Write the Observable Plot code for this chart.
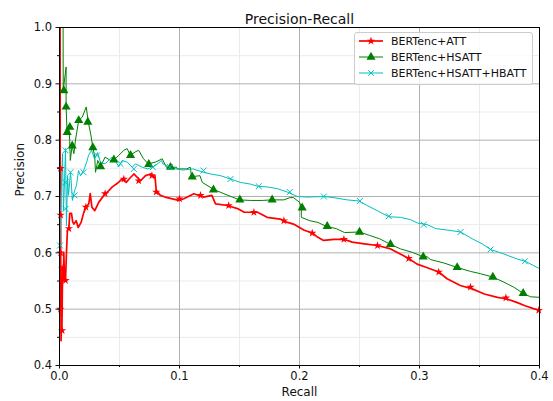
<!DOCTYPE html>
<html>
<head>
<meta charset="utf-8">
<script src="https://cdn.jsdelivr.net/npm/d3@7"></script>
<script src="https://cdn.jsdelivr.net/npm/@observablehq/plot@0.6"></script>
<style>
  body { margin: 0; background: white; }
  #wrap { position: relative; width: 553px; height: 401px; font-family: "DejaVu Sans", sans-serif; }
  #legend { position: absolute; left: 354px; top: 32px; width: 179px; height: 53px; box-sizing: border-box;
            border: 1px solid #cccccc; border-radius: 3px; background: rgba(255,255,255,0.8); }
  .row { position: absolute; left: 0; height: 14px; display: flex; align-items: center; font-size: 11px; color: #111; white-space: nowrap; }
  .row svg { margin-left: 4px; margin-right: 8px; }
</style>
</head>
<body>
<div id="wrap"><div id="chart"></div><div id="legend"></div></div>
<script>
// ---------------- data ----------------
const seriesNames = ["BERTenc+ATT", "BERTenc+HSATT", "BERTenc+HSATT+HBATT"];
const seriesColors = ["#ff0000", "#008000", "#00bfbf"];
const xTicks = [0, 0.1, 0.2, 0.3, 0.4];
const xMinor = [0.05, 0.15, 0.25, 0.35];
const yTicks = [0.4, 0.5, 0.6, 0.7, 0.8, 0.9, 1.0];
const yMinor = [0.45, 0.55, 0.65, 0.75, 0.85, 0.95];

// BERTenc+ATT
const attRecall = [0.0005,0.0006,0.0008,0.0009,0.001,0.001,0.0012,0.0012,0.0013,0.0018,0.002,0.0022,0.0024,0.0028,0.0032,0.0036,0.0042,0.005,0.0058,0.0066,0.0078,0.0085,0.010,0.011,0.012,0.0139,0.0156,0.018,0.020,0.022,0.0244,0.0256,0.027,0.0294,0.0328,0.037,0.040,0.044,0.048,0.052,0.0556,0.058,0.062,0.0675,0.0717,0.0758,0.0786,0.0795,0.0806,0.084,0.088,0.0994,0.1036,0.112,0.120,0.127,0.130,0.140,0.149,0.154,0.165,0.173,0.184,0.190,0.195,0.200,0.204,0.211,0.215,0.220,0.229,0.237,0.244,0.254,0.265,0.276,0.284,0.291,0.298,0.306,0.316,0.323,0.334,0.344,0.354,0.365,0.373,0.381,0.388,0.395,0.400];
const attPrecision = [1.0,0.5,0.667,0.75,0.6,0.5,0.571,0.5,0.444,0.5,0.462,0.5,0.538,0.572,0.55,0.6,0.55,0.551,0.6,0.64,0.643,0.67,0.67,0.655,0.651,0.657,0.645,0.654,0.67,0.681,0.687,0.705,0.681,0.675,0.69,0.702,0.708,0.717,0.723,0.731,0.725,0.731,0.74,0.728,0.737,0.74,0.734,0.737,0.711,0.702,0.699,0.693,0.696,0.705,0.699,0.702,0.687,0.684,0.678,0.672,0.672,0.663,0.66,0.654,0.651,0.645,0.64,0.635,0.628,0.622,0.624,0.624,0.619,0.616,0.613,0.607,0.598,0.59,0.58,0.574,0.566,0.554,0.542,0.536,0.527,0.521,0.518,0.512,0.506,0.501,0.498];
const attMarkRecall = [0.0009,0.0009,0.001,0.0022,0.005,0.0008,0.0022,0.0078,0.022,0.038,0.0536,0.066,0.077,0.0806,0.100,0.1175,0.141,0.162,0.187,0.2106,0.237,0.265,0.291,0.316,0.3425,0.372,0.3994];
const attMarkPrecision = [0.75,0.667,0.6,0.572,0.551,0.5,0.462,0.643,0.681,0.705,0.731,0.728,0.737,0.708,0.696,0.702,0.684,0.672,0.657,0.635,0.624,0.613,0.59,0.566,0.539,0.52,0.498];

// BERTenc+HSATT
const hsRecall = [0.0005,0.003,0.0031,0.0055,0.0055,0.0064,0.0078,0.0085,0.009,0.0105,0.012,0.0133,0.016,0.019,0.0223,0.024,0.026,0.0278,0.0294,0.030,0.0319,0.0342,0.038,0.0425,0.0453,0.0494,0.0536,0.0564,0.059,0.063,0.066,0.070,0.074,0.080,0.0856,0.089,0.0975,0.098,0.106,0.109,0.110,0.117,0.119,0.129,0.137,0.144,0.150,0.159,0.169,0.177,0.187,0.192,0.195,0.198,0.200,0.2015,0.2015,0.2085,0.2153,0.2222,0.2306,0.2375,0.250,0.2583,0.2667,0.2722,0.2758,0.2842,0.2939,0.3008,0.3064,0.3092,0.3203,0.3314,0.3425,0.3508,0.3611,0.3703,0.3786,0.3864,0.3925,0.400];
const hsPrecision = [1.0,1.0,0.888,0.93,0.859,0.81,0.823,0.8,0.764,0.79,0.776,0.8,0.835,0.841,0.859,0.832,0.811,0.787,0.77,0.743,0.764,0.753,0.77,0.764,0.765,0.773,0.782,0.785,0.773,0.779,0.782,0.767,0.758,0.761,0.767,0.752,0.752,0.749,0.749,0.752,0.735,0.737,0.725,0.712,0.705,0.699,0.694,0.693,0.693,0.694,0.694,0.698,0.698,0.693,0.69,0.68,0.663,0.657,0.654,0.647,0.643,0.636,0.637,0.631,0.625,0.619,0.615,0.607,0.601,0.595,0.593,0.588,0.582,0.574,0.567,0.563,0.557,0.548,0.539,0.528,0.522,0.521];
const hsMarkRecall = [0.0036,0.0055,0.0064,0.0086,0.0106,0.016,0.0236,0.0278,0.0342,0.0453,0.0592,0.0744,0.0925,0.1106,0.1283,0.1503,0.1772,0.2022,0.2231,0.250,0.2758,0.3031,0.3314,0.3611,0.3864];
const hsMarkPrecision = [0.888,0.859,0.814,0.823,0.79,0.835,0.832,0.787,0.753,0.765,0.773,0.757,0.752,0.735,0.712,0.694,0.694,0.68,0.647,0.637,0.615,0.593,0.574,0.557,0.528];

// BERTenc+HSATT+HBATT
const hbRecall = [0.0004,0.0012,0.0025,0.0033,0.0042,0.005,0.0058,0.0067,0.0075,0.0092,0.0108,0.0125,0.0142,0.0158,0.0175,0.020,0.0225,0.0242,0.0267,0.0292,0.0317,0.0342,0.038,0.0436,0.0464,0.0494,0.0522,0.0564,0.0606,0.0633,0.0689,0.0736,0.080,0.085,0.0861,0.0917,0.0972,0.1028,0.1111,0.120,0.1258,0.1342,0.1425,0.1508,0.1592,0.1653,0.1731,0.1814,0.1897,0.1983,0.2064,0.2203,0.2286,0.2397,0.2494,0.2564,0.2647,0.2744,0.2842,0.2925,0.2981,0.3064,0.3136,0.3247,0.3342,0.3439,0.3522,0.3592,0.3703,0.3814,0.3883,0.3953,0.400];
const hbPrecision = [0.613,0.693,0.776,0.675,0.728,0.785,0.648,0.737,0.702,0.743,0.693,0.71,0.72,0.746,0.737,0.746,0.76,0.773,0.782,0.767,0.778,0.76,0.758,0.77,0.764,0.753,0.764,0.761,0.752,0.758,0.752,0.749,0.755,0.764,0.758,0.752,0.749,0.747,0.749,0.743,0.74,0.737,0.731,0.725,0.722,0.718,0.717,0.714,0.708,0.7,0.699,0.7,0.698,0.694,0.692,0.684,0.675,0.664,0.663,0.659,0.653,0.65,0.643,0.64,0.637,0.625,0.616,0.606,0.598,0.589,0.585,0.577,0.572];
const hbMarkRecall = [0.0004,0.005,0.005,0.005,0.0092,0.0125,0.020,0.0312,0.0508,0.0619,0.0778,0.092,0.120,0.1425,0.1661,0.1919,0.2203,0.2503,0.2744,0.3036,0.3342,0.3592,0.3878];
const hbMarkPrecision = [0.613,0.782,0.725,0.678,0.743,0.702,0.743,0.773,0.758,0.749,0.752,0.752,0.746,0.731,0.718,0.708,0.7,0.692,0.665,0.65,0.637,0.606,0.585];

// ---------------- build ----------------
const toRows = (rs, ps) => rs.map((r, i) => ({r, p: ps[i]}));
const att = toRows(attRecall, attPrecision), attM = toRows(attMarkRecall, attMarkPrecision);
const hs = toRows(hsRecall, hsPrecision), hsM = toRows(hsMarkRecall, hsMarkPrecision);
const hb = toRows(hbRecall, hbPrecision), hbM = toRows(hbMarkRecall, hbMarkPrecision);
const fmt = d3.format(".1f");

const chart = Plot.plot({
  width: 553, height: 401,
  marginTop: 27, marginLeft: 59, marginRight: 14, marginBottom: 36,
  x: {domain: [0, 0.4]},
  y: {domain: [0.4, 1.0]},
  style: {fontFamily: "DejaVu Sans, sans-serif", background: "white", color: "#111"},
  marks: [
    Plot.gridX(xMinor, {stroke: "#ebebeb", strokeOpacity: 1}),
    Plot.gridY(yMinor, {stroke: "#ebebeb", strokeOpacity: 1}),
    Plot.gridX(xTicks, {stroke: "#b0b0b0", strokeOpacity: 1}),
    Plot.gridY(yTicks, {stroke: "#b0b0b0", strokeOpacity: 1}),
    Plot.line(att, {x: "r", y: "p", stroke: seriesColors[0], strokeWidth: 1.7, clip: true}),
    Plot.line(hs, {x: "r", y: "p", stroke: seriesColors[1], strokeWidth: 1, clip: true}),
    Plot.line(hb, {x: "r", y: "p", stroke: seriesColors[2], strokeWidth: 1, clip: true}),
    Plot.dot(attM, {x: "r", y: "p", symbol: "star", fill: seriesColors[0], r: 2.6}),
    Plot.dot(hsM, {x: "r", y: "p", symbol: "triangle", fill: seriesColors[1], r: 3.4}),
    Plot.dot(hbM, {x: "r", y: "p", symbol: "times", stroke: seriesColors[2], strokeWidth: 1, r: 2.8}),
    Plot.frame({stroke: "black", strokeWidth: 1}),
    Plot.axisX(xTicks, {tickSize: 3.5, tickPadding: 3, tickFormat: fmt, fontSize: 11.5, label: null}),
    Plot.axisX(xMinor, {tickSize: 2, tickFormat: () => "", label: null}),
    Plot.axisY(yTicks, {tickSize: 3.5, tickPadding: 4, tickFormat: fmt, fontSize: 11.5, label: null}),
    Plot.axisY(yMinor, {tickSize: 2, tickFormat: () => "", label: null}),
    Plot.text(["Precision-Recall"], {frameAnchor: "top", dy: -13, fontSize: 14}),
    Plot.text(["Recall"], {frameAnchor: "bottom", dy: 30, fontSize: 12}),
    Plot.text(["Precision"], {frameAnchor: "left", dx: -39, rotate: -90, fontSize: 12})
  ]
});
document.getElementById("chart").appendChild(chart);

// legend
const legend = document.getElementById("legend");
const symbols = ["star", "triangle", "times"];
const rowTops = [0, 16, 32];
seriesNames.forEach((name, i) => {
  const row = document.createElement("div");
  row.className = "row";
  row.style.top = (rowTops[i] + 1) + "px";
  const ns = "http://www.w3.org/2000/svg";
  const svg = document.createElementNS(ns, "svg");
  svg.setAttribute("width", 24); svg.setAttribute("height", 12);
  const line = document.createElementNS(ns, "line");
  line.setAttribute("x1", 0); line.setAttribute("x2", 24);
  line.setAttribute("y1", 6); line.setAttribute("y2", 6);
  line.setAttribute("stroke", seriesColors[i]);
  line.setAttribute("stroke-width", i === 0 ? 1.7 : 1);
  svg.appendChild(line);
  const sym = {star: d3.symbolStar, triangle: d3.symbolTriangle, times: d3.symbolTimes}[symbols[i]];
  const path = document.createElementNS(ns, "path");
  path.setAttribute("d", d3.symbol(sym, i === 1 ? 36 : 22)());
  path.setAttribute("transform", "translate(12,6)");
  if (i === 2) { path.setAttribute("fill", "none"); path.setAttribute("stroke", seriesColors[i]); }
  else path.setAttribute("fill", seriesColors[i]);
  svg.appendChild(path);
  row.appendChild(svg);
  const span = document.createElement("span");
  span.textContent = name;
  row.appendChild(span);
  legend.appendChild(row);
});
</script>
</body>
</html>
